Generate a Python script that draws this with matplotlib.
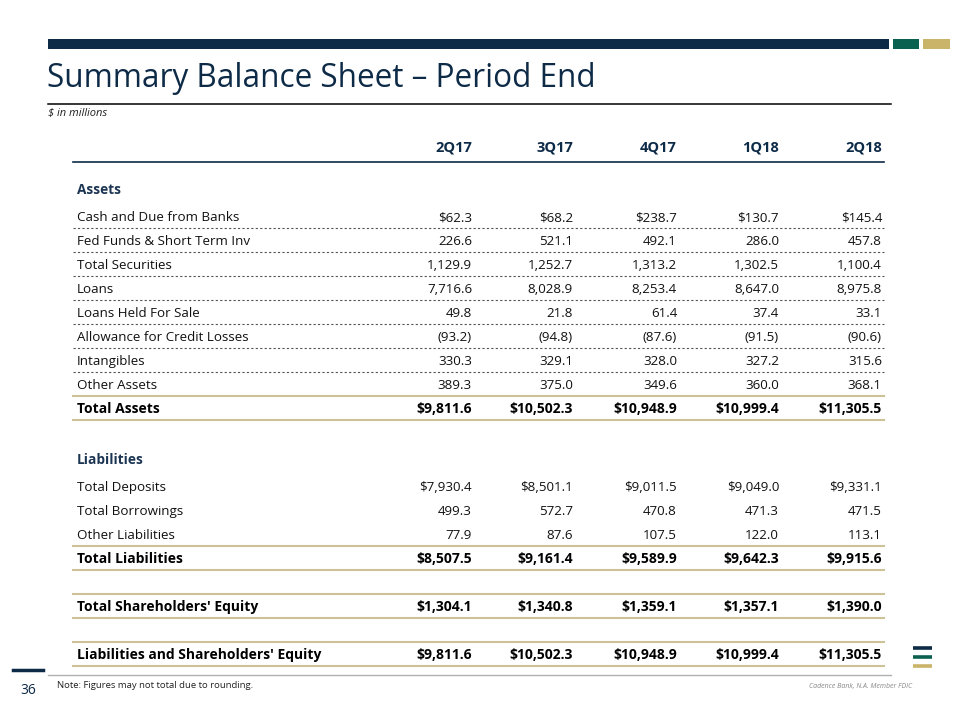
import matplotlib.pyplot as plt
import numpy as np

plt.rcParams['font.family'] = ['Open Sans', 'DejaVu Sans']

# data
quarters = ['2Q17', '3Q17', '4Q17', '1Q18', '2Q18']

asset_labels = ['Cash and Due from Banks', 'Fed Funds & Short Term Inv', 'Total Securities',
                'Loans', 'Loans Held For Sale', 'Allowance for Credit Losses',
                'Intangibles', 'Other Assets']
asset_values = [
    [62.3, 68.2, 238.7, 130.7, 145.4],
    [226.6, 521.1, 492.1, 286.0, 457.8],
    [1129.9, 1252.7, 1313.2, 1302.5, 1100.4],
    [7716.6, 8028.9, 8253.4, 8647.0, 8975.8],
    [49.8, 21.8, 61.4, 37.4, 33.1],
    [-93.2, -94.8, -87.6, -91.5, -90.6],
    [330.3, 329.1, 328.0, 327.2, 315.6],
    [389.3, 375.0, 349.6, 360.0, 368.1],
]
total_assets = [9811.6, 10502.3, 10948.9, 10999.4, 11305.5]

liab_labels = ['Total Deposits', 'Total Borrowings', 'Other Liabilities']
liab_values = [
    [7930.4, 8501.1, 9011.5, 9049.0, 9331.1],
    [499.3, 572.7, 470.8, 471.3, 471.5],
    [77.9, 87.6, 107.5, 122.0, 113.1],
]
total_liab = [8507.5, 9161.4, 9589.9, 9642.3, 9915.6]
total_equity = [1304.1, 1340.8, 1359.1, 1357.1, 1390.0]
liab_and_equity = [9811.6, 10502.3, 10948.9, 10999.4, 11305.5]

NAVY = '#0d2a47'
GREEN = '#0b6150'
GOLD = '#c9b46a'
RULE_GOLD = '#cdc197'
SECTION = '#1c3552'


def fmt(v, dollar=False):
    s = f"{abs(v):,.1f}"
    if dollar:
        s = '$' + s
    return f"({s})" if v < 0 else s


# build rows: (kind, label, values, dollar, height)
rows = [('section', 'Assets', None, False, 42)]
for i, (lab, vals) in enumerate(zip(asset_labels, asset_values)):
    rows.append(('item', lab, vals, i == 0, 24))
rows.append(('total', 'Total Assets', total_assets, True, 24))
rows.append(('gap', '', None, False, 26))
rows.append(('section', 'Liabilities', None, False, 28))
for i, (lab, vals) in enumerate(zip(liab_labels, liab_values)):
    rows.append(('item_plain', lab, vals, i == 0, 24))
rows.append(('total', 'Total Liabilities', total_liab, True, 24))
rows.append(('gap', '', None, False, 24))
rows.append(('total', "Total Shareholders' Equity", total_equity, True, 24))
rows.append(('gap', '', None, False, 24))
rows.append(('total', "Liabilities and Shareholders' Equity", liab_and_equity, True, 24))

fig = plt.figure(figsize=(9.6, 7.2), dpi=100)
ax = fig.add_axes([0, 0, 1, 1])
ax.set_xlim(0, 960)
ax.set_ylim(720, 0)
ax.axis('off')

# top bars
ax.fill_between([48, 889], 39, 49, color=NAVY, lw=0)
ax.fill_between([893, 919], 39, 49, color=GREEN, lw=0)
ax.fill_between([923, 950], 39, 49, color=GOLD, lw=0)

ax.text(47, 87, 'Summary Balance Sheet \u2013 Period End', fontsize=22.7, color=NAVY,
        va='baseline', ha='left')
ax.plot([48, 891], [104, 104], color='black', lw=1.1)
ax.text(48, 116, '$ in millions', fontsize=8, style='italic', color='#222222', va='baseline')

col_right = [472, 573, 677, 779, 882]
x_left, x_right, x_label = 73, 884, 77

for q, xr in zip(quarters, col_right):
    ax.text(xr, 152, q, ha='right', va='baseline', fontsize=10.5, fontweight='bold', color=NAVY)
ax.plot([x_left, x_right], [162, 162], color=NAVY, lw=1.2)

y = 162
for kind, lab, vals, dollar, h in rows:
    top, bottom = y, y + h
    base = bottom - 7
    if kind == 'section':
        ax.text(x_label, bottom - 10, lab, fontsize=9.8, fontweight='bold', color=SECTION,
                va='baseline')
    elif kind in ('item', 'item_plain'):
        ax.text(x_label, base, lab, fontsize=9.6, color='#111111', va='baseline')
        for v, xr in zip(vals, col_right):
            ax.text(xr, base, fmt(v, dollar), fontsize=9.6, color='#111111', ha='right', va='baseline')
    elif kind == 'total':
        ax.plot([x_left, x_right], [top, top], color=RULE_GOLD, lw=1.5)
        ax.plot([x_left, x_right], [bottom, bottom], color=RULE_GOLD, lw=1.5)
        ax.text(x_label, base, lab, fontsize=10, fontweight='bold', color='black', va='baseline')
        for v, xr in zip(vals, col_right):
            ax.text(xr, base, fmt(v, dollar), fontsize=10, fontweight='bold', color='black',
                    ha='right', va='baseline')
    y = bottom

# dotted separators between asset items
y = 162
items = []
for kind, lab, vals, dollar, h in rows:
    if kind == 'item':
        items.append(y + h)
    y += h
for yy in items[:-1]:
    ax.plot([x_left, x_right], [yy, yy], color='#555555', lw=0.8, ls=(0, (2, 2)))

# footer
ax.plot([48, 891], [675, 675], color='#b0b0b0', lw=1)
ax.plot([13, 43], [670, 670], color=NAVY, lw=2.5)
ax.text(28, 694, '36', fontsize=10, color=NAVY, ha='center', va='baseline')
ax.text(57, 688, 'Note: Figures may not total due to rounding.', fontsize=6.8, color='#222222',
        va='baseline')
ax.text(912, 688, 'Cadence Bank, N.A. Member FDIC', fontsize=5, style='italic', color='#888888',
        ha='right', va='baseline')

# logo
for yy, c in zip([648, 657, 666], [NAVY, GREEN, GOLD]):
    ax.plot([913, 932], [yy, yy], color=c, lw=2.6, solid_capstyle='butt')

fig.savefig('out.png', dpi=100)
